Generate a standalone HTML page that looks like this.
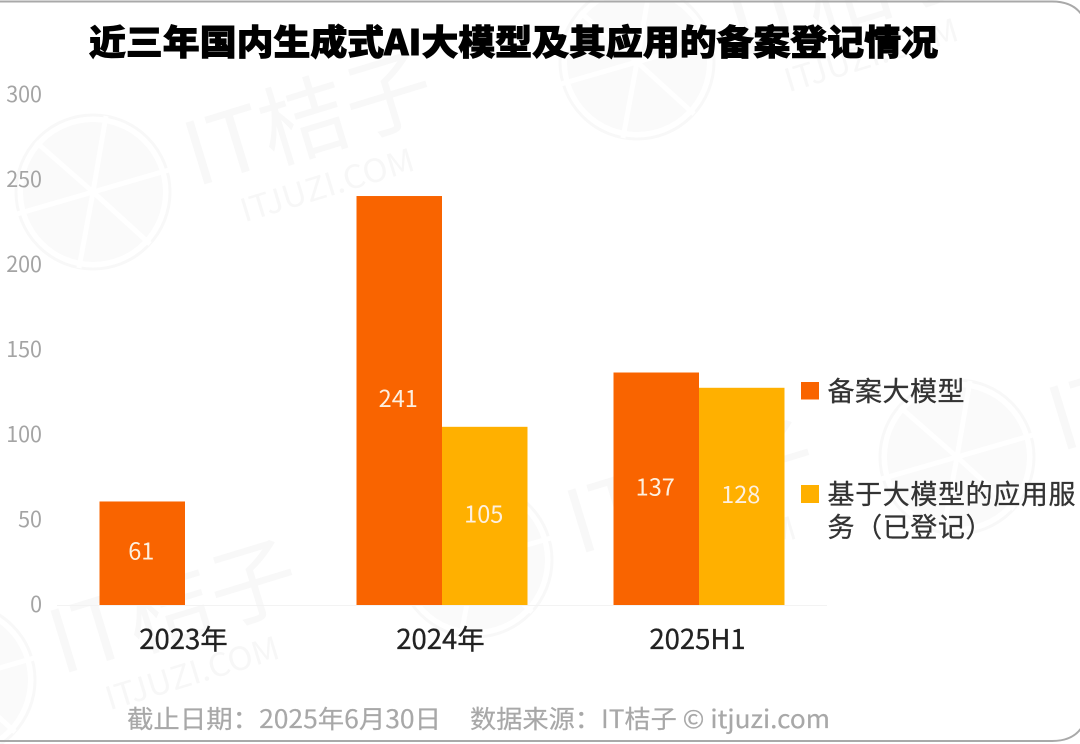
<!DOCTYPE html>
<html lang="zh-CN">
<head>
<meta charset="utf-8">
<title>近三年国内生成式AI大模型及其应用的备案登记情况</title>
<style>
html,body{margin:0;padding:0;background:#fff;width:1080px;height:744px;overflow:hidden}
svg{display:block;font-family:"Liberation Sans","Noto Sans CJK SC",sans-serif}
text{font-family:"Noto Sans CJK SC","Liberation Sans",sans-serif}
</style>
</head>
<body>
<svg id="chart" width="1080" height="744" viewBox="0 0 1080 744" xmlns="http://www.w3.org/2000/svg">
  <rect width="1080" height="744" fill="#fff"/>
  <defs>
    <g id="wm">
      <circle r="77" fill="none" stroke="#f8f8f8" stroke-width="3"/>
      <circle r="70" fill="#fafafa"/>
      <g stroke="#fff" stroke-width="5">
        <line x1="0" y1="0" x2="13" y2="-76"/>
        <line x1="0" y1="0" x2="76" y2="-22"/>
        <line x1="0" y1="0" x2="57" y2="52"/>
        <line x1="0" y1="0" x2="-14" y2="76"/>
        <line x1="0" y1="0" x2="-76" y2="22"/>
        <line x1="0" y1="0" x2="-57" y2="-50"/>
      </g>
      <g transform="translate(103,-5) rotate(-17)" fill="#f8f8f8">
        <text font-size="88" font-weight="400" x="0" y="0">IT桔子</text>
        <text font-size="32" x="36" y="48" fill="#f7f7f7" textLength="180" lengthAdjust="spacingAndGlyphs">ITJUZI.COM</text>
      </g>
    </g>
  </defs>
  <g>
    <use href="#wm" x="93" y="192"/>
    <use href="#wm" x="637" y="62"/>
    <use href="#wm" x="957" y="457"/>
    <use href="#wm" x="475" y="560"/>
    <use href="#wm" x="-42" y="680"/>
  </g>
  <path d="M-2,1.5 H1052 Q1079,1.5 1086,24 M-2,741 H1052 Q1079,741 1086,718" fill="none" stroke="#a9a9a9" stroke-width="2"/>
  <text x="89" y="55" font-size="35" font-weight="900" fill="#000" stroke="#000" stroke-width="0.9" textLength="849" lengthAdjust="spacingAndGlyphs">近三年国内生成式AI大模型及其应用的备案登记情况</text>
  <g id="plot"></g>
  <g>
    <g>
      <rect x="801" y="382" width="18" height="17.5" fill="#f96400"/>
      <text x="827.5" y="401" font-size="27" fill="#333" stroke="#333" stroke-width="0.3" textLength="137">备案大模型</text>
    </g>
    <g>
      <rect x="801" y="485" width="18" height="18" fill="#ffb000"/>
      <text x="827.5" y="504" font-size="27" fill="#333" stroke="#333" stroke-width="0.3" textLength="248">基于大模型的应用服</text>
      <text x="827.5" y="537" font-size="27" fill="#333" stroke="#333" stroke-width="0.3" textLength="165">务（已登记）</text>
    </g>
  </g>
  <text x="127" y="728" font-size="25" fill="#a8a8a8" stroke="#a8a8a8" stroke-width="0.2" textLength="314" lengthAdjust="spacingAndGlyphs">截止日期：2025年6月30日</text>
  <text x="470" y="728" font-size="25" fill="#a8a8a8" stroke="#a8a8a8" stroke-width="0.2" textLength="360" lengthAdjust="spacingAndGlyphs">数据来源：IT桔子 © itjuzi.com</text>
</svg>
<script>
const categories = ['2023年', '2024年', '2025H1'];
const modelFilings = [61, 241, 137];
const serviceFilings = [null, 105, 128];
const yTicks = [0, 50, 100, 150, 200, 250, 300];

const NS = 'http://www.w3.org/2000/svg';
const plot = document.getElementById('plot');
const baseY = 605;
const unitPx = 1.697;
const bandStart = 56.5;
const bandWidth = 257;
const barWidth = 85.5;

function yScale(v) { return baseY - v * unitPx; }
function xCenter(i) { return bandStart + bandWidth * (i + 0.5); }

function make(tag, attrs, txt) {
  const el = document.createElementNS(NS, tag);
  for (const k in attrs) el.setAttribute(k, attrs[k]);
  if (txt !== undefined) el.textContent = txt;
  plot.appendChild(el);
  return el;
}

const axisLine = make('line', { x1: 57, x2: 827, y1: baseY + 0.5, y2: baseY + 0.5, stroke: '#f3f3f3', 'stroke-width': 1 });



yTicks.forEach(function (t) {
  const el = make('text', { x: 42, y: baseY - t * 1.7 + 7, 'text-anchor': 'end', 'font-size': 21.5, fill: '#a4a4a4' }, String(t));
  
  
});

categories.forEach(function (c, i) {
  const el = make('text', { x: xCenter(i) - 1.5, y: 649, 'text-anchor': 'middle', 'font-size': 27.5, fill: '#222', stroke: '#222', 'stroke-width': 0.3 }, c);
  
  
});

function drawSeries(values, offset, color, key) {
  values.forEach(function (v, i) {
    if (v === null) return;
    const x = xCenter(i) + offset;
    const top = yScale(v);
    const bar = make('rect', { x: x, y: top, width: barWidth, height: baseY - top, fill: color });
    
    
    const label = make('text', { x: x + barWidth / 2 - 1, y: (top + baseY) / 2 + 6.5, 'text-anchor': 'middle', 'font-size': 23.5, fill: '#fdf0e0' }, String(v));
    
    
  });
}

drawSeries(modelFilings, -barWidth, '#f96400', 'models');
drawSeries(serviceFilings, 0, '#ffb000', 'services');
</script>
</body>
</html>
